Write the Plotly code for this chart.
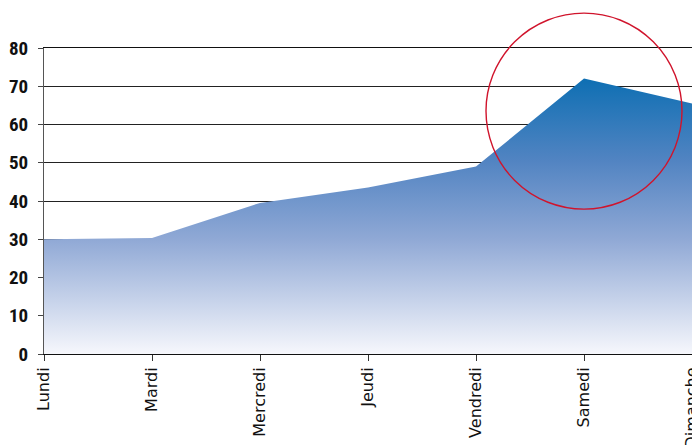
import plotly.graph_objects as go

days = ["Lundi", "Mardi", "Mercredi", "Jeudi", "Vendredi", "Samedi", "Dimanche"]
values = [30, 30.3, 39.5, 43.5, 49, 72, 65.5]
y_ticks = [0, 10, 20, 30, 40, 50, 60, 70, 80]

highlight_day = "Samedi"
highlight_center = 63.5  # circle centre value on the y axis
y_max = 80

fig = go.Figure()
fig.add_trace(go.Scatter(
    x=days, y=values,
    mode="none",
    fill="tozeroy",
    fillgradient=dict(
        type="vertical",
        start=0, stop=max(values),
        colorscale=[[0.0, "#f6f7fc"], [0.42, "#8fa8d5"], [0.7, "#5284c2"], [1.0, "#0e6fb3"]],
    ),
    hoverinfo="x+y",
))

idx = days.index(highlight_day)
cx = idx / (len(days) - 1)
cy = highlight_center / y_max
fig.add_shape(
    type="circle", xref="paper", yref="paper",
    xsizemode="pixel", ysizemode="pixel",
    xanchor=cx, yanchor=cy,
    x0=-98, x1=98, y0=-98, y1=98,
    line=dict(color="#d0142c", width=1.4),
    layer="above",
)

fig.update_layout(
    width=692, height=445,
    margin=dict(l=44, r=0, t=48, b=91),
    paper_bgcolor="white", plot_bgcolor="white",
    showlegend=False,
)
fig.update_xaxes(
    type="category", range=[0, len(days) - 1],
    tickangle=-90, automargin=False,
    tickfont=dict(family="DejaVu Sans", size=16, color="#111"),
    showgrid=False, showline=True, linecolor="#111", linewidth=1, mirror=True,
    ticks="outside", ticklen=6, tickcolor="#333", tickwidth=1,
    zeroline=False,
)
fig.update_yaxes(
    range=[0, y_max], tickvals=y_ticks, automargin=False,
    tickfont=dict(family="Liberation Sans Narrow, Roboto Condensed, Roboto", size=19, color="#111", weight="bold"),
    showgrid=True, gridcolor="#222", gridwidth=1,
    showline=True, linecolor="#555", linewidth=1,
    ticks="outside", ticklen=5, tickcolor="#444",
    ticklabelstandoff=6,
    zeroline=False,
)

fig.write_html("out.html")
